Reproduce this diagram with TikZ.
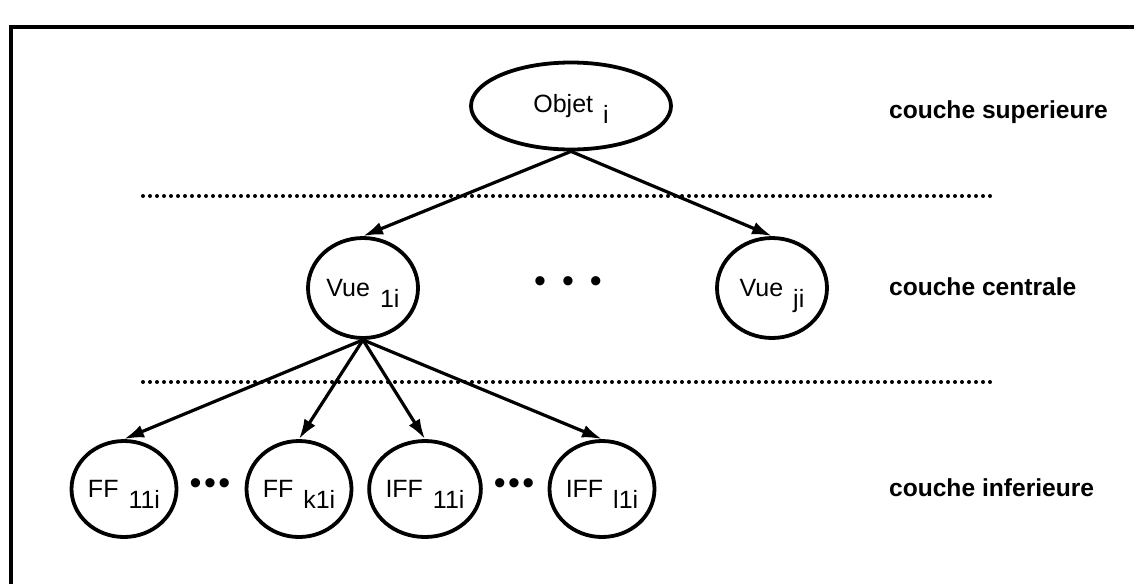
\documentclass[tikz,border=0pt]{standalone}
\usepackage{fontspec}
\setmainfont{Liberation Sans}
\usepackage{tikz}
\usetikzlibrary{shapes.geometric,arrows.meta}

\newcommand{\lowsub}[1]{\hspace{0.4em}\raisebox{-0.8ex}[0pt][0pt]{#1}}
\tikzset{
  objnode/.style={ellipse, draw, line width=1.9pt, inner sep=0pt, font=\fontsize{12.5}{14}\selectfont},
  layer/.style={anchor=west, font=\fontsize{12.3}{14}\selectfont\bfseries},
  sep/.style={line width=2pt, line cap=round, dash pattern=on 0pt off 3.5pt},
  down/.style={->, line width=1.6pt, >={Latex[length=10pt,width=6.5pt]}},
  dots/.style={inner sep=0pt, font=\fontsize{17}{17}\selectfont}
}

\begin{document}
\begin{tikzpicture}[x=0.5pt, y=-0.5pt]
\useasboundingbox (0,0) rectangle (1134,584);
\draw[line width=2.2pt] (11,584) -- (11,27) -- (1134,27);

\node (objet) at (571,106) [objnode, minimum width=100pt, minimum height=43.5pt] {Objet\lowsub{i}};

\draw[sep] (143,196) -- (995,196);

\node (vue1) at (363,288) [objnode, minimum width=55pt, minimum height=50pt] {Vue\lowsub{1i}};
	\node (dotsv) at (568,285) [dots] {•\hspace{8pt}•\hspace{8pt}•};
\node (vuej) at (772,288) [objnode, minimum width=55pt, minimum height=50pt] {Vue\lowsub{ji}};
\draw[down] (objet.south) -- (vue1.north);
\draw[down] (objet.south) -- (vuej.north);

\draw[sep] (143,382) -- (995,382);

\node (ff1) at (124,489) [objnode, minimum width=52.5pt, minimum height=48pt] {FF\lowsub{11i}};
	\node (dotsa) at (210,487) [dots] {•\hspace{1.2pt}•\hspace{1.2pt}•};
\node (ffk) at (299,489) [objnode, minimum width=52.5pt, minimum height=48pt] {FF\lowsub{k1i}};
\node (iff1) at (425,489) [objnode, minimum width=52.5pt, minimum height=48pt] {IFF\lowsub{11i}};
	\node (dotsb) at (514,487) [dots] {•\hspace{1.2pt}•\hspace{1.2pt}•};
\node (iffl) at (602,489) [objnode, minimum width=52.5pt, minimum height=48pt] {IFF\lowsub{l1i}};
\foreach \leaf in {ff1,ffk,iff1,iffl}
  \draw[down] (vue1.south) -- (\leaf.north);

\node (sup) at (882,112) [layer] {couche superieure};
\node (cen) at (882,287) [layer] {couche centrale};
\node (inf) at (882,488) [layer] {couche inferieure};
\end{tikzpicture}
\end{document}
